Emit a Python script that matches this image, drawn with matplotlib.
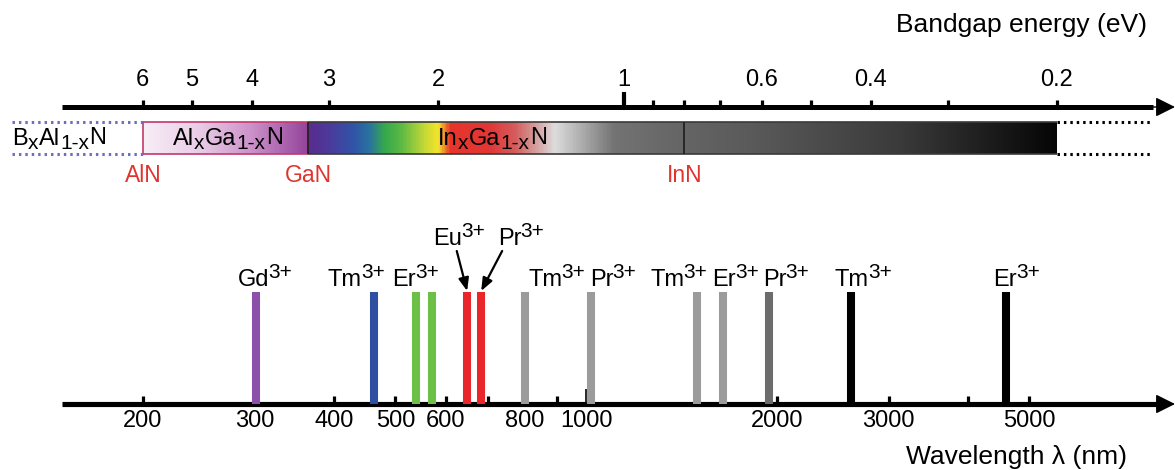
import numpy as np
import matplotlib
matplotlib.use("Agg")
import matplotlib.pyplot as plt
from matplotlib.ticker import FixedLocator, FixedFormatter
from matplotlib.colors import to_rgb

plt.rcParams['font.family'] = ['Liberation Sans', 'DejaVu Sans']

# ---------------- data ----------------
# wavelength axis (nm)
wl_minor_ticks = [200, 300, 400, 500, 600, 700, 800, 900, 2000, 3000, 4000, 5000]
wl_minor_labels = ['200', '300', '400', '500', '600', '', '800', '', '2000', '3000', '', '5000']
wl_major_ticks = [1000]
wl_major_labels = ['1000']

# bandgap energy axis (eV)
eg_minor_ticks = [6, 5, 4, 3, 2, 0.9, 0.8, 0.7, 0.6, 0.5, 0.4, 0.3, 0.2]
eg_minor_labels = ['6', '5', '4', '3', '2', '', '', '', '0.6', '', '0.4', '', '0.2']
eg_major_ticks = [1]
eg_major_labels = ['1']

# emission lines of rare-earth ions
line_ions = ['Gd', 'Tm', 'Er', 'Er', 'Eu', 'Pr', 'Tm', 'Pr', 'Tm', 'Er', 'Pr', 'Tm', 'Er']
line_wavelengths = [301, 463, 539, 571, 649, 683, 801, 1018, 1496, 1645, 1942, 2618, 4594]
line_colors = ['#8d50a8', '#2e4fa2', '#6cbf47', '#6cbf47', '#e8262b', '#e8262b',
               '#9b9b9b', '#9b9b9b', '#9b9b9b', '#9b9b9b', '#6c6c6c', '#000000', '#000000']

# ion labels above the lines (left edge, nm)
label_ions = ['Gd', 'Tm', 'Er', 'Tm', 'Pr', 'Tm', 'Er', 'Pr', 'Tm', 'Er']
label_left_wl = [282, 391, 494, 810, 1014, 1261, 1580, 1901, 2468, 4382]

# labels with arrows
arrow_ions = ['Eu', 'Pr']
arrow_label_left_wl = [573, 726]
arrow_tail_wl = [625, 737]
arrow_head_wl = [649, 683]

# semiconductor bandgaps (eV)
materials = ['AlN', 'GaN', 'InN']
material_eg = [6.0, 3.24, 0.80]
bar_end_eg = 0.2
baln_start_eg = 9.77
dotted_end_eg = 0.1414

# ---------------- layout ----------------
W, H = 1175, 470
fig = plt.figure(figsize=(W / 100, H / 100), dpi=100)

ax = fig.add_axes([0, 0, 1, 1])       # wavelength axes (bottom)
ax2 = fig.add_axes([0, 0, 1, 1])      # energy axes (top)
ax2.patch.set_visible(False)

for a in (ax, ax2):
    a.set_xscale('log')
    a.set_ylim(H, 0)
    a.yaxis.set_visible(False)
    for s in ('left', 'right'):
        a.spines[s].set_visible(False)

ax.set_xlim(118.96, 8488)
ax2.set_xlim(10.21, 0.1288)

Y_BOT = 404
Y_TOP = 107

# bottom axis
ax.spines['top'].set_visible(False)
ax.spines['bottom'].set_position(('data', Y_BOT))
ax.spines['bottom'].set_linewidth(3.7)
ax.spines['bottom'].set_bounds(149, 8050)
ax.spines['bottom'].set_capstyle('butt')
ax.xaxis.set_major_locator(FixedLocator(wl_major_ticks))
ax.xaxis.set_major_formatter(FixedFormatter(wl_major_labels))
ax.xaxis.set_minor_locator(FixedLocator(wl_minor_ticks))
ax.xaxis.set_minor_formatter(FixedFormatter(wl_minor_labels))
ax.tick_params(axis='x', which='minor', direction='in', length=5.8, width=2.3,
               labelsize=17, pad=4.5, color='black')
ax.tick_params(axis='x', which='major', direction='in', length=10.8, width=1.2,
               labelsize=17, pad=4.5, color='black')
ax.annotate('', xy=(8488, Y_BOT), xytext=(7900, Y_BOT), xycoords='data',
            arrowprops=dict(arrowstyle='-|>,head_length=0.6,head_width=0.3',
                            mutation_scale=20, lw=1, color='black',
                            shrinkA=0, shrinkB=0), zorder=5)
ax.set_xlabel('Wavelength λ (nm)', fontsize=19, va='center')
ax.xaxis.set_label_coords(1017 / W, 1 - 457 / H)

# top axis
ax2.spines['bottom'].set_visible(False)
ax2.spines['top'].set_position(('data', Y_TOP))
ax2.spines['top'].set_linewidth(3.6)
ax2.spines['top'].set_bounds(8.11, 0.140)
ax2.spines['top'].set_capstyle('butt')
ax2.xaxis.set_ticks_position('top')
ax2.xaxis.set_label_position('top')
ax2.xaxis.set_major_locator(FixedLocator(eg_major_ticks))
ax2.xaxis.set_major_formatter(FixedFormatter(eg_major_labels))
ax2.xaxis.set_minor_locator(FixedLocator(eg_minor_ticks))
ax2.xaxis.set_minor_formatter(FixedFormatter(eg_minor_labels))
ax2.tick_params(axis='x', which='minor', direction='out', length=5.0, width=2.3,
                labelsize=17, pad=6.5)
ax2.tick_params(axis='x', which='major', direction='out', length=10.8, width=3.0,
                labelsize=17, pad=0.7)
ax2.annotate('', xy=(0.1288, Y_TOP), xytext=(0.142, Y_TOP), xycoords='data',
             arrowprops=dict(arrowstyle='-|>,head_length=0.6,head_width=0.3',
                             mutation_scale=20, lw=1, color='black',
                             shrinkA=0, shrinkB=0), zorder=5)
ax2.set_xlabel('Bandgap energy (eV)', fontsize=19, va='center')
ax2.xaxis.set_label_coords(1021 / W, 1 - 25 / H)

# ---------------- bandgap bar ----------------
BAR_T, BAR_B = 122, 154
stops = [
    (6.0, '#f8eef6'), (4.86, '#e8cce6'), (4.02, '#cc92c9'), (3.2402, '#93429a'),
    (3.2398, '#5a2b8c'), (2.99, '#4a3a9c'), (2.73, '#2f55a6'), (2.58, '#2a72a0'),
    (2.44, '#34a84a'), (2.30, '#58b845'), (2.10, '#c6d836'), (2.00, '#f2e52a'),
    (1.91, '#e8342a'), (1.65, '#e03636'), (1.50, '#d45c5c'), (1.37, '#d6aaaa'),
    (1.295, '#dcdcdc'), (1.16, '#a8a8a8'), (1.04, '#737373'), (0.80, '#646464'),
    (0.628, '#5a5a5a'), (0.359, '#3a3a3a'), (0.2, '#050505'),
]
s_x = np.array([-np.log10(e) for e, _ in stops])
s_c = np.array([to_rgb(c) for _, c in stops])
edges = np.logspace(np.log10(material_eg[0]), np.log10(bar_end_eg), 700)
mids = -np.log10(np.sqrt(edges[:-1] * edges[1:]))
rgb = np.stack([np.interp(mids, s_x, s_c[:, k]) for k in range(3)], axis=-1)
ax2.pcolormesh(edges, [BAR_T, BAR_B], rgb[np.newaxis, :, :], shading='flat',
               antialiased=False, edgecolors='none', zorder=1)

# borders
ax2.hlines([BAR_T, BAR_B], material_eg[0], material_eg[1], colors='#c2386c', lw=1.2, zorder=2)
ax2.vlines([material_eg[0]], BAR_T, BAR_B, colors='#c2386c', lw=1.2, zorder=2)
ax2.hlines([BAR_T, BAR_B], material_eg[1], bar_end_eg, colors='#3a3a3a', lw=1.2, zorder=2)
ax2.vlines([material_eg[1], material_eg[2]], BAR_T, BAR_B, colors='#222222', lw=1.3, zorder=2)

# dotted extensions
ax2.hlines([BAR_T, BAR_B], baln_start_eg, material_eg[0], colors='#6f6fc0', lw=2.2,
           linestyles=(0, (0.8, 1.3)), zorder=2)
ax2.hlines([BAR_T, BAR_B], bar_end_eg, dotted_end_eg, colors='black', lw=2.2,
           linestyles=(0, (0.8, 1.3)), zorder=2)

# material labels
for name, e in zip(materials, material_eg):
    ax2.text(e, 175, name, color='#e0342e', fontsize=16.5, ha='center', va='center')

# rich text helper: parts = (text, size, baseline shift in points, x gap in points)
D = 0.21


def rich(axis, x, y, parts, color='black'):
    s0, z0, dy0, _ = parts[0]
    prev = axis.text(x, y, s0, fontsize=z0, ha='left', va='baseline', color=color, zorder=6)
    prev_size, prev_dy = z0, dy0
    for s, z, dy, gap in parts[1:]:
        off = dy - prev_dy + D * prev_size
        prev = axis.annotate(s, xy=(1, 0), xycoords=prev, xytext=(gap, off),
                             textcoords='offset points', fontsize=z, ha='left',
                             va='baseline', color=color, zorder=6)
        prev_size, prev_dy = z, dy
    return prev


SUB = -2.8
rich(ax2, baln_start_eg * 1.0, 145, [('B', 17, 0, 0), ('x', 15, SUB, 0.2), ('Al', 17, 0, 0.2),
                                     ('1-x', 15, SUB, 0.2), ('N', 17, 0, 0.2)])
rich(ax2, 5.37, 145, [('Al', 17, 0, 0), ('x', 15, SUB, 0.2), ('Ga', 17, 0, 0.2),
                      ('1-x', 15, SUB, 0.2), ('N', 17, 0, 0.2)])
rich(ax2, 2.0, 145, [('In', 17, 0, 0), ('x', 15, SUB, 0.2), ('Ga', 17, 0, 0.2),
                     ('1-x', 15, SUB, 0.2), ('N', 17, 0, 0.2)])

# ---------------- emission lines ----------------
LINE_TOP = 292
ax.vlines(line_wavelengths, LINE_TOP, Y_BOT, colors=line_colors, lw=5.8,
          capstyle='butt', zorder=3)

SUP = 6.0
for ion, wl in zip(label_ions, label_left_wl):
    rich(ax, wl, 286, [(ion, 17, 0, 0), ('3+', 15, SUP, -0.6)])

for ion, wl in zip(arrow_ions, arrow_label_left_wl):
    rich(ax, wl, 245, [(ion, 17, 0, 0), ('3+', 15, SUP, -0.6)])

for t, h in zip(arrow_tail_wl, arrow_head_wl):
    ax.annotate('', xy=(h, 291), xytext=(t, 251),
                arrowprops=dict(arrowstyle='-|>,head_length=0.55,head_width=0.22',
                                mutation_scale=14, lw=1.6, color='black',
                                shrinkA=0, shrinkB=0), zorder=6)

fig.savefig('out.png', dpi=100)
